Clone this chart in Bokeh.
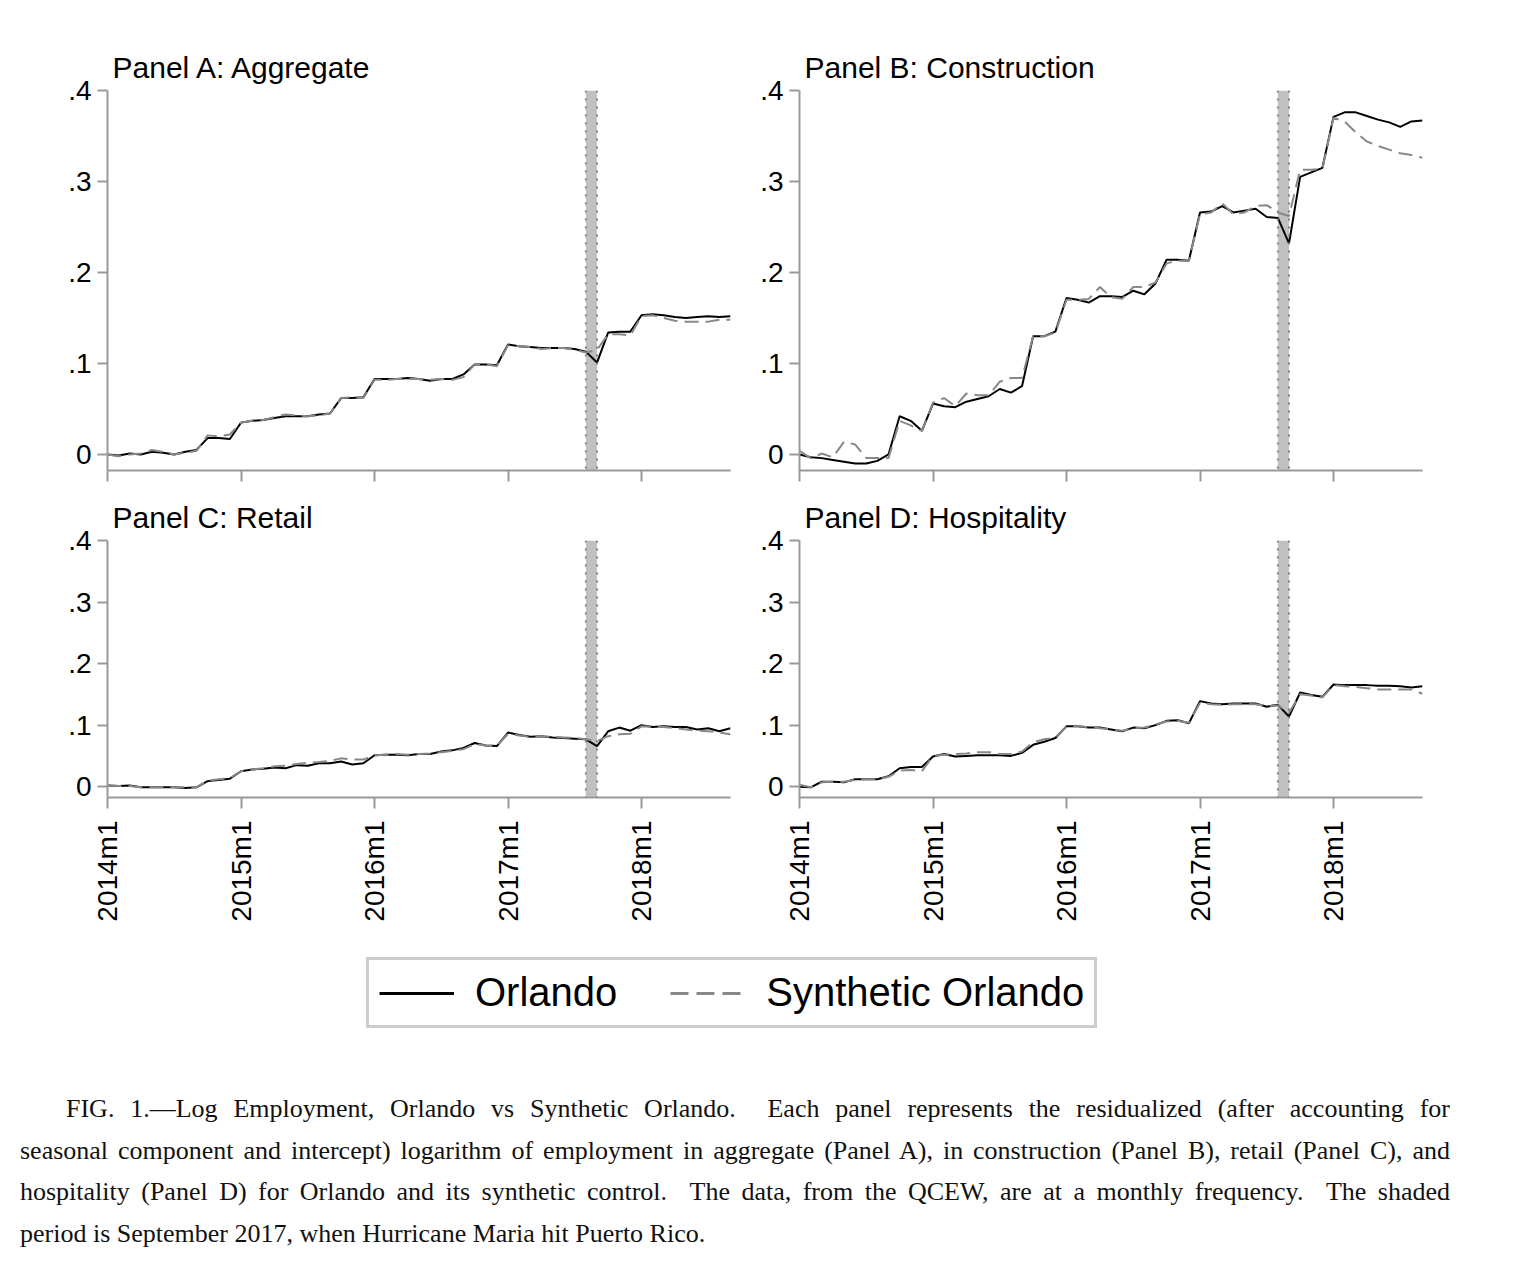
import numpy as np
from bokeh.plotting import figure
from bokeh.layouts import column, row
from bokeh.models import FixedTicker, Legend, LegendItem, Div, Range1d, BoxAnnotation, Span
from bokeh.embed import file_html
from bokeh.resources import INLINE

# ---------------- data ----------------
months = list(range(57))  # 2014m1 .. 2018m9
xtick_values = [0, 12, 24, 36, 48]
xtick_labels = ["2014m1", "2015m1", "2016m1", "2017m1", "2018m1"]
ytick_values = [0, 0.1, 0.2, 0.3, 0.4]
ytick_labels = ["0", ".1", ".2", ".3", ".4"]
shade_start, shade_end = 43, 44  # 2017m8 .. 2017m9

aggregate_orlando = [
    0.000, -0.001, 0.001, 0.000, 0.003, 0.002, 0.000, 0.003, 0.005, 0.018,
    0.018, 0.017, 0.035, 0.037, 0.038, 0.040, 0.042, 0.042, 0.042, 0.044,
    0.045, 0.062, 0.062, 0.063, 0.083, 0.083, 0.083, 0.084, 0.083, 0.081,
    0.083, 0.083, 0.088, 0.099, 0.099, 0.098, 0.121, 0.119, 0.118, 0.117,
    0.117, 0.117, 0.116, 0.113, 0.101, 0.134, 0.135, 0.135, 0.153, 0.154,
    0.153, 0.151, 0.150, 0.151, 0.152, 0.151, 0.152]
aggregate_synth = [
    0.000, -0.002, 0.000, 0.001, 0.005, 0.003, 0.000, 0.002, 0.004, 0.021,
    0.020, 0.022, 0.035, 0.037, 0.038, 0.041, 0.044, 0.043, 0.042, 0.043,
    0.045, 0.062, 0.063, 0.062, 0.082, 0.082, 0.083, 0.083, 0.083, 0.082,
    0.083, 0.082, 0.085, 0.099, 0.099, 0.097, 0.120, 0.119, 0.118, 0.116,
    0.117, 0.117, 0.115, 0.112, 0.115, 0.132, 0.132, 0.131, 0.152, 0.153,
    0.150, 0.147, 0.146, 0.146, 0.146, 0.148, 0.148]

construction_orlando = [
    0.000, -0.003, -0.004, -0.006, -0.008, -0.010, -0.010, -0.007, 0.000, 0.042,
    0.037, 0.026, 0.056, 0.053, 0.052, 0.058, 0.061, 0.064, 0.072, 0.068,
    0.075, 0.130, 0.130, 0.135, 0.172, 0.170, 0.167, 0.174, 0.174, 0.173,
    0.180, 0.176, 0.188, 0.214, 0.214, 0.213, 0.266, 0.267, 0.273, 0.266,
    0.268, 0.270, 0.261, 0.260, 0.232, 0.305, 0.310, 0.315, 0.371, 0.376,
    0.376, 0.372, 0.368, 0.365, 0.360, 0.366, 0.367]
construction_synth = [
    0.004, -0.004, 0.001, -0.003, 0.014, 0.011, -0.004, -0.004, -0.004, 0.037,
    0.032, 0.026, 0.057, 0.062, 0.053, 0.067, 0.065, 0.065, 0.080, 0.084,
    0.084, 0.130, 0.130, 0.134, 0.170, 0.170, 0.171, 0.184, 0.173, 0.171,
    0.184, 0.184, 0.189, 0.210, 0.213, 0.213, 0.264, 0.266, 0.276, 0.264,
    0.266, 0.273, 0.274, 0.266, 0.262, 0.313, 0.313, 0.314, 0.370, 0.366,
    0.354, 0.344, 0.339, 0.335, 0.331, 0.329, 0.326]

retail_orlando = [
    0.002, 0.001, 0.002, -0.001, -0.001, -0.001, -0.001, -0.002, -0.001, 0.009,
    0.011, 0.013, 0.025, 0.028, 0.029, 0.031, 0.030, 0.035, 0.034, 0.038,
    0.038, 0.041, 0.036, 0.038, 0.051, 0.052, 0.052, 0.051, 0.053, 0.053,
    0.057, 0.059, 0.063, 0.071, 0.067, 0.066, 0.088, 0.084, 0.081, 0.082,
    0.080, 0.079, 0.078, 0.077, 0.066, 0.090, 0.096, 0.091, 0.100, 0.097,
    0.098, 0.097, 0.097, 0.093, 0.095, 0.090, 0.095]
retail_synth = [
    0.002, 0.001, 0.001, -0.001, -0.001, -0.001, -0.001, -0.001, -0.001, 0.010,
    0.012, 0.014, 0.025, 0.028, 0.030, 0.033, 0.034, 0.037, 0.039, 0.040,
    0.042, 0.046, 0.044, 0.044, 0.051, 0.052, 0.053, 0.052, 0.053, 0.054,
    0.056, 0.058, 0.061, 0.069, 0.067, 0.066, 0.086, 0.083, 0.081, 0.082,
    0.081, 0.080, 0.079, 0.077, 0.074, 0.082, 0.085, 0.086, 0.098, 0.097,
    0.097, 0.095, 0.093, 0.091, 0.090, 0.088, 0.085]

hospitality_orlando = [
    0.000, -0.001, 0.008, 0.008, 0.007, 0.012, 0.012, 0.012, 0.017, 0.030,
    0.032, 0.032, 0.049, 0.053, 0.049, 0.050, 0.051, 0.051, 0.051, 0.050,
    0.055, 0.068, 0.073, 0.079, 0.098, 0.098, 0.096, 0.096, 0.093, 0.090,
    0.096, 0.095, 0.100, 0.107, 0.108, 0.103, 0.139, 0.135, 0.134, 0.135,
    0.135, 0.135, 0.130, 0.133, 0.114, 0.153, 0.149, 0.146, 0.166, 0.165,
    0.165, 0.165, 0.164, 0.164, 0.163, 0.161, 0.163]
hospitality_synth = [
    0.003, -0.001, 0.007, 0.008, 0.008, 0.011, 0.012, 0.012, 0.016, 0.026,
    0.027, 0.025, 0.050, 0.052, 0.053, 0.054, 0.056, 0.056, 0.053, 0.053,
    0.057, 0.072, 0.077, 0.080, 0.098, 0.098, 0.097, 0.095, 0.093, 0.091,
    0.095, 0.096, 0.101, 0.106, 0.107, 0.104, 0.136, 0.134, 0.133, 0.134,
    0.134, 0.134, 0.131, 0.132, 0.120, 0.150, 0.148, 0.145, 0.165, 0.163,
    0.162, 0.160, 0.158, 0.158, 0.158, 0.158, 0.151]

panel_titles = ["Panel A: Aggregate", "Panel B: Construction", "Panel C: Retail", "Panel D: Hospitality"]
series_labels = ["Orlando", "Synthetic Orlando"]

# ---------------- styling ----------------
SANS = "Liberation Sans"
AXIS_GRAY = "#999999"
ORL_COLOR = "black"
SYN_COLOR = "#888888"
SYN_DASH = "14 7"
Y_MIN, Y_MAX = -0.0176, 0.4


def make_panel(title, orl, syn, top_row, left_col):
    fh = 380 if top_row else 257
    p = figure(frame_width=623, frame_height=fh,
               x_range=Range1d(0, 56), y_range=Range1d(Y_MIN, Y_MAX),
               output_backend="svg", toolbar_location=None,
               min_border_left=107 if left_col else 49,
               min_border_right=20 if left_col else 98,
               min_border_top=90 if top_row else 52,
               min_border_bottom=18 if top_row else 138,
               background_fill_color="white", border_fill_color="white")
    p.outline_line_color = None
    p.xgrid.visible = False
    p.ygrid.visible = False

    p.title.text = title
    p.title.text_font = SANS
    p.title.text_font_size = "30px"
    p.title.text_font_style = "normal"
    p.title.text_color = "black"
    p.title.offset = 5
    p.title.standoff = 13

    band = BoxAnnotation(left=shade_start, right=shade_end, fill_color="#c0c0c0",
                         fill_alpha=1.0, line_color=None, level="underlay")
    p.add_layout(band)
    for loc in (shade_start, shade_end):
        p.add_layout(Span(location=loc, dimension="height", line_color="#808080",
                          line_width=2, line_dash="2 6"))

    p.line(months, orl, line_color=ORL_COLOR, line_width=2)
    p.line(months, syn, line_color=SYN_COLOR, line_width=2, line_dash=SYN_DASH)

    for ax in (p.xaxis[0], p.yaxis[0]):
        ax.axis_line_color = AXIS_GRAY
        ax.axis_line_width = 2
        ax.major_tick_line_color = AXIS_GRAY
        ax.major_tick_line_width = 2
        ax.major_tick_in = 0
        ax.minor_tick_in = 0
        ax.minor_tick_out = 0
        ax.major_label_text_font = SANS
        ax.major_label_text_font_size = "28px"
        ax.major_label_text_color = "black"

    xa = p.xaxis[0]
    xa.ticker = FixedTicker(ticks=xtick_values)
    xa.major_tick_out = 11
    if top_row:
        xa.major_label_overrides = {v: "" for v in xtick_values}
        xa.major_label_standoff = 0
    else:
        xa.major_label_overrides = dict(zip(xtick_values, xtick_labels))
        xa.major_label_orientation = np.pi / 2
        xa.major_label_standoff = 12

    ya = p.yaxis[0]
    ya.ticker = FixedTicker(ticks=ytick_values)
    ya.major_label_overrides = dict(zip(ytick_values, ytick_labels))
    ya.major_tick_out = 10
    ya.major_label_standoff = 6
    return p


pA = make_panel(panel_titles[0], aggregate_orlando, aggregate_synth, True, True)
pB = make_panel(panel_titles[1], construction_orlando, construction_synth, True, False)
pC = make_panel(panel_titles[2], retail_orlando, retail_synth, False, True)
pD = make_panel(panel_titles[3], hospitality_orlando, hospitality_synth, False, False)

# ---------------- legend ----------------
# The legend figure shows only the legend: its ranges lie outside the data,
# so the two sample renderers draw nothing inside the frame.
lf = figure(frame_width=1528, frame_height=115, min_border=0,
            x_range=Range1d(-20, -19), y_range=Range1d(-20, -19),
            output_backend="svg", toolbar_location=None)
lf.axis.visible = False
lf.xgrid.visible = False
lf.ygrid.visible = False
lf.outline_line_color = None
r1 = lf.line(months, aggregate_orlando, line_color=ORL_COLOR, line_width=3)
r2 = lf.line(months, aggregate_synth, line_color=SYN_COLOR, line_width=3, line_dash="18 8")
legend = Legend(items=[LegendItem(label=series_labels[0], renderers=[r1]),
                       LegendItem(label=series_labels[1], renderers=[r2])],
                orientation="horizontal", location=(366, 22),
                label_text_font=SANS, label_text_font_size="40px",
                label_text_color="black",
                glyph_width=75, label_standoff=21, spacing=53,
                padding=10, margin=0,
                border_line_color=AXIS_GRAY, border_line_width=3,
                background_fill_color="white", background_fill_alpha=1.0)
lf.add_layout(legend, "center")

# ---------------- caption ----------------
cap_lines = [
    "FIG. 1.\u2014Log Employment, Orlando vs Synthetic Orlando.&nbsp; Each panel represents the residualized (after accounting for",
    "seasonal component and intercept) logarithm of employment in aggregate (Panel A), in construction (Panel B), retail (Panel C), and",
    "hospitality (Panel D) for Orlando and its synthetic control.&nbsp; The data, from the QCEW, are at a monthly frequency.&nbsp; The shaded",
    "period is September 2017, when Hurricane Maria hit Puerto Rico.",
]
parts = []
for i, ln in enumerate(cap_lines):
    last = i == len(cap_lines) - 1
    indent = "text-indent:46px;" if i == 0 else ""
    align = "text-align:left;" if last else "text-align:justify;text-align-last:justify;"
    parts.append(f'<div style="{align}{indent}white-space:nowrap;">{ln}</div>')
cap_html = ('<div style="box-sizing:content-box;font-family:\'Liberation Serif\',serif;font-size:26px;'
            'line-height:41.5px;color:#111;width:1430px;padding:0;margin-left:15px;margin-top:33px;">'
            + "".join(parts) + '</div>')
caption = Div(text=cap_html, width=1528, height=210)

layout = column(row(pA, pB), row(pC, pD), lf, caption)
open("out.html", "w").write(file_html(layout, INLINE))
